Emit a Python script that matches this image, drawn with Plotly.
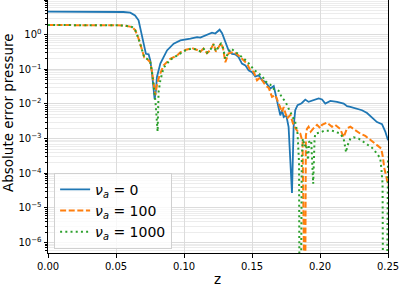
import plotly.graph_objects as go

# ---- data ----
z_nu0 = [0, 0.02, 0.04, 0.0554, 0.0605, 0.0640, 0.0666, 0.0684, 0.0703, 0.0720, 0.0740, 0.0752,
         0.0765, 0.0784, 0.0794, 0.0801, 0.0826, 0.0875, 0.0924, 0.0973, 0.1047, 0.1096, 0.1120,
         0.1157, 0.1179, 0.1206, 0.1230, 0.1262, 0.1280, 0.1304, 0.1328, 0.1353, 0.1377, 0.1401,
         0.1426, 0.1451, 0.1475, 0.1500, 0.1524, 0.1549, 0.1574, 0.1598, 0.1635, 0.1660, 0.1684,
         0.1708, 0.1721, 0.1733, 0.1752, 0.1769, 0.1794, 0.1806, 0.1818, 0.1835, 0.1865, 0.1892,
         0.1916, 0.1953, 0.1990, 0.2015, 0.2039, 0.2076, 0.2125, 0.2174, 0.2199, 0.2223, 0.2260,
         0.2309, 0.2346, 0.2382, 0.2419, 0.2456, 0.2480, 0.2500]
err_nu0 = [4.6, 4.6, 4.6, 4.5, 4.3, 3.6, 2.6, 1.33, 0.55, 0.28, 0.27, 0.18,
           0.076, 0.0137, 0.025, 0.06, 0.146, 0.35, 0.55, 0.68, 0.77, 0.85, 0.82,
           0.95, 1.0, 1.14, 1.08, 1.39, 1.1, 0.61, 0.35, 0.28, 0.27, 0.225,
           0.146, 0.13, 0.094, 0.083, 0.062, 0.067, 0.048, 0.043, 0.028, 0.033, 0.013,
           0.0047, 0.0066, 0.0042, 0.0047, 0.0022, 2.7e-5, 0.0022, 0.0066, 0.0092, 0.0105, 0.0134,
           0.0115, 0.0128, 0.0144, 0.0135, 0.0103, 0.0122, 0.0115, 0.0103, 0.0086, 0.0083, 0.0074,
           0.0066, 0.0055, 0.0042, 0.0030, 0.0026, 0.0016, 0.0009]

z_nu100 = [0, 0.02, 0.04, 0.0556, 0.0618, 0.0642, 0.0666, 0.0691, 0.0708, 0.0728, 0.0752, 0.0765,
           0.0776, 0.0789, 0.0801, 0.0820, 0.0850, 0.0899, 0.0949, 0.0973, 0.1010, 0.1059, 0.1096,
           0.1120, 0.1144, 0.1169, 0.1194, 0.1218, 0.1235, 0.1254, 0.1272, 0.1287, 0.1304, 0.1328,
           0.1365, 0.1401, 0.1438, 0.1463, 0.1488, 0.1512, 0.1537, 0.1561, 0.1598, 0.1623, 0.1647,
           0.1672, 0.1696, 0.1721, 0.1733, 0.1757, 0.1782, 0.1806, 0.1831, 0.1855, 0.1872, 0.1878,
           0.1890, 0.1896, 0.1904, 0.1916, 0.1932, 0.1953, 0.1978, 0.2002, 0.2015, 0.2051, 0.2088,
           0.2112, 0.2149, 0.2174, 0.2199, 0.2223, 0.2260, 0.2296, 0.2333, 0.2357, 0.2394, 0.2431,
           0.2450, 0.2462, 0.2473, 0.2488, 0.2500]
err_nu100 = [1.9, 1.9, 1.9, 1.85, 1.66, 1.33, 0.77, 0.35, 0.22, 0.20, 0.16, 0.083,
             0.039, 0.018, 0.035, 0.067, 0.13, 0.20, 0.25, 0.31, 0.36, 0.41, 0.36,
             0.32, 0.40, 0.29, 0.36, 0.55, 0.32, 0.44, 0.57, 0.40, 0.16, 0.29,
             0.32, 0.25, 0.18, 0.146, 0.094, 0.085, 0.048, 0.058, 0.035, 0.029, 0.016,
             0.018, 0.0103, 0.0059, 0.0082, 0.0038, 0.0048, 0.0024, 0.0017, 0.0014, 0.0008, 1e-9,
             1e-9, 0.0012, 0.0019, 0.0022, 0.0016, 0.0020, 0.0025, 0.0020, 0.0025, 0.0029, 0.0022,
             0.0025, 0.0019, 0.0011, 0.0020, 0.0022, 0.0017, 0.0014, 0.0012, 0.0010, 0.0008, 0.00058,
             0.00052, 0.0003, 0.00014, 7.9e-5, 4.5e-5]

z_nu1000 = [0, 0.02, 0.04, 0.0556, 0.0618, 0.0642, 0.0666, 0.0691, 0.0708, 0.0728, 0.0752, 0.0765,
            0.0776, 0.0790, 0.0806, 0.0813, 0.0826, 0.0850, 0.0899, 0.0949, 0.0973, 0.1010, 0.1059,
            0.1096, 0.1120, 0.1144, 0.1169, 0.1194, 0.1218, 0.1235, 0.1254, 0.1272, 0.1287, 0.1304,
            0.1341, 0.1365, 0.1401, 0.1426, 0.1463, 0.1488, 0.1512, 0.1549, 0.1574, 0.1598, 0.1635,
            0.1660, 0.1696, 0.1721, 0.1745, 0.1769, 0.1794, 0.1818, 0.1835, 0.1846, 0.1850, 0.1858,
            0.1866, 0.1874, 0.1887, 0.1899, 0.1912, 0.1920, 0.1935, 0.1950, 0.1960, 0.1966, 0.2002,
            0.2031, 0.2088, 0.2125, 0.2149, 0.2174, 0.2186, 0.2192, 0.2200, 0.2223, 0.2247, 0.2284,
            0.2321, 0.2357, 0.2382, 0.2419, 0.2443, 0.2451, 0.2460, 0.2465, 0.2490, 0.2500]
err_nu1000 = [1.9, 1.9, 1.9, 1.85, 1.66, 1.33, 0.77, 0.35, 0.22, 0.20, 0.16, 0.083,
              0.039, 0.012, 0.0016, 0.022, 0.048, 0.11, 0.19, 0.25, 0.30, 0.35, 0.40,
              0.37, 0.33, 0.39, 0.30, 0.37, 0.52, 0.33, 0.45, 0.55, 0.42, 0.20,
              0.40, 0.35, 0.27, 0.225, 0.17, 0.13, 0.10, 0.075, 0.066, 0.045, 0.036,
              0.027, 0.024, 0.015, 0.012, 0.0074, 0.0047, 0.0030, 0.0014, 2e-4, 1e-9, 1e-9,
              3e-4, 0.0010, 0.0006, 0.0007, 2.4e-4, 0.0008, 0.0009, 5e-5, 0.0010, 0.0014, 0.0015,
              0.0017, 0.0017, 0.0015, 0.0014, 0.0010, 0.00047, 0.0004, 0.0006, 0.0010, 0.0011, 0.0010,
              0.0008, 0.00065, 0.00055, 0.00037, 0.00027, 0.00014, 5e-5, 1e-9, 1e-9, 3e-4]

x_tick_vals = [0.0, 0.05, 0.10, 0.15, 0.20, 0.25]
x_tick_text = ["0.00", "0.05", "0.10", "0.15", "0.20", "0.25"]
y_tick_vals = [1e-6, 1e-5, 1e-4, 1e-3, 1e-2, 1e-1, 1e0, 1e1]
y_tick_text = ["10<sup>−6</sup>", "10<sup>−5</sup>", "10<sup>−4</sup>", "10<sup>−3</sup>",
               "10<sup>−2</sup>", "10<sup>−1</sup>", "10<sup>0</sup>", ""]
y_minor_vals = [m * 10.0 ** e for e in range(-7, 1) for m in range(2, 10)]

names = ["<i>ν</i><sub><i>a</i></sub> = 0", "<i>ν</i><sub><i>a</i></sub> = 100",
         "<i>ν</i><sub><i>a</i></sub> = 1000"]

FONT = "DejaVu Sans"
L, R, T, B, W, H = 48, 11, 0, 34, 399, 287
PW, PH = W - L - R, H - T - B

fig = go.Figure()
fig.add_trace(go.Scatter(x=z_nu0, y=err_nu0, mode="lines", name=names[0],
                         line=dict(color="#1f77b4", width=1.8)))
fig.add_trace(go.Scatter(x=z_nu100, y=err_nu100, mode="lines", name=names[1],
                         line=dict(color="#ff7f0e", width=2, dash="6px,2.6px")))
fig.add_trace(go.Scatter(x=z_nu1000, y=err_nu1000, mode="lines", name=names[2],
                         line=dict(color="#2ca02c", width=2, dash="2px,3.2px")))

fig.update_layout(
    width=W, height=H,
    margin=dict(l=L, r=R, t=T, b=B),
    paper_bgcolor="white", plot_bgcolor="white",
    font=dict(family=FONT, color="black", size=10),
    showlegend=True,
    legend=dict(x=0.018, y=0.017, xanchor="left", yanchor="bottom",
                bgcolor="rgba(255,255,255,0.8)", bordercolor="#d0d0d0", borderwidth=1,
                font=dict(family=FONT, size=14, color="black"), itemwidth=30),
    xaxis=dict(range=[-1e-6, 0.250001], tickvals=x_tick_vals, ticktext=x_tick_text,
               showgrid=True, gridcolor="#dcdcdc", gridwidth=0.8,
               showline=True, linecolor="black", linewidth=1, mirror=False,
               ticks="outside", ticklen=3.5, tickcolor="black", tickwidth=0.8,
               tickfont=dict(size=10), zeroline=False, ticklabeloverflow="allow"),
    yaxis=dict(type="log", range=[-6.30, 1.0], tickvals=y_tick_vals, ticktext=y_tick_text,
               showgrid=True, gridcolor="#dcdcdc", gridwidth=0.8,
               showline=True, linecolor="black", linewidth=1, mirror=True,
               ticks="outside", ticklen=3.5, tickcolor="black", tickwidth=0.8,
               tickfont=dict(size=10), zeroline=False,
               minor=dict(tickvals=y_minor_vals, ticks="outside", ticklen=2,
                          tickcolor="black", tickwidth=0.6,
                          showgrid=True, gridcolor="#ececec", gridwidth=0.6)),
    annotations=[
        dict(text="Absolute error pressure", xref="paper", yref="paper",
             x=(7.5 - L) / PW, y=(PH - 112.5) / PH, xanchor="center",
             yanchor="middle", textangle=-90, showarrow=False,
             font=dict(family=FONT, size=13.5, color="black")),
        dict(text="z", xref="paper", yref="paper",
             x=(217 - L) / PW, y=(PH - 279) / PH, xanchor="center",
             yanchor="middle", showarrow=False,
             font=dict(family=FONT, size=13.5, color="black")),
    ],
)

fig.write_html("out.html", config={"displayModeBar": False},
               post_script="document.body.style.margin='0';")
